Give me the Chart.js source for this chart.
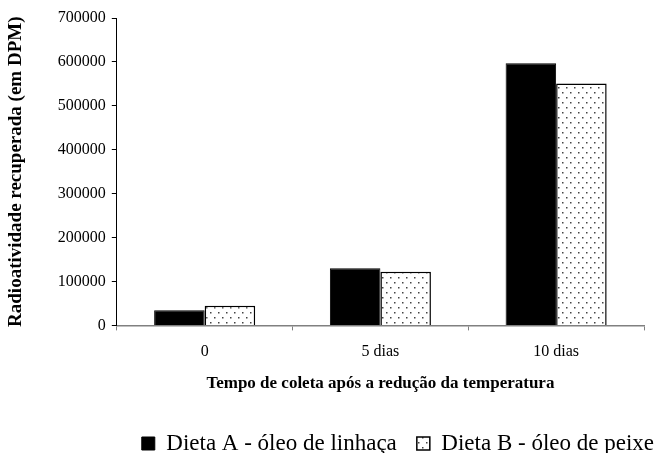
<!DOCTYPE html>
<html>
<head>
<meta charset="utf-8">
<script src="https://cdn.jsdelivr.net/npm/chart.js@4"></script>
<style>
  html, body { margin: 0; padding: 0; background: #fff; }
  #wrap { width: 669px; height: 453px; }
</style>
</head>
<body>
<div id="wrap"><canvas id="chart_radioatividade" width="669" height="453"></canvas></div>
<script>
var categories = ['0', '5 dias', '10 dias'];
var dietaA = [34500, 130000, 597000];
var dietaB = [44500, 122000, 551000];
var yTicks = [0, 100000, 200000, 300000, 400000, 500000, 600000, 700000];

var serif = "'Liberation Serif', 'Times New Roman', serif";

// dotted fill used by the second series
function dotPattern() {
    var c = document.createElement('canvas');
    c.width = 8;
    c.height = 10;
    var g = c.getContext('2d');
    g.fillStyle = '#fff';
    g.fillRect(0, 0, 8, 10);
    g.fillStyle = '#444';
    g.fillRect(2, 2, 1.5, 1.5);
    g.fillRect(6, 7, 1.5, 1.5);
    return g.createPattern(c, 'repeat');
}

Chart.defaults.color = '#000';
Chart.defaults.font.family = serif;

var chart_radioatividade = new Chart(document.getElementById('chart_radioatividade'), {
    type: 'bar',
    data: {
        labels: categories,
        datasets: [
            {
                label: 'Dieta A - óleo de linhaça',
                data: dietaA,
                backgroundColor: '#000',
                borderColor: '#000',
                borderWidth: 1
            },
            {
                label: 'Dieta B - óleo de peixe',
                data: dietaB,
                backgroundColor: dotPattern(),
                borderColor: '#000',
                borderWidth: 1.5
            }
        ]
    },
    options: {
        animation: false,
        responsive: false,
        devicePixelRatio: 1,
        categoryPercentage: 0.575,
        barPercentage: 1,
        layout: {
            padding: { left: 1, right: -5, top: 18, bottom: -12 }
        },
        plugins: {
            tooltip: { enabled: false },
            legend: {
                position: 'bottom',
                align: 'end',
                labels: {
                    boxWidth: 13,
                    boxHeight: 13,
                    padding: 20,
                    font: { family: serif, size: 23 }
                }
            }
        },
        scales: {
            x: {
                afterFit: function(scale) {
                    scale.paddingRight = 25;
                },
                border: { display: true, color: '#808080', width: 1.5 },
                grid: {
                    display: true,
                    drawOnChartArea: false,
                    drawTicks: true,
                    tickLength: 5,
                    color: '#808080'
                },
                ticks: { font: { family: serif, size: 16 }, padding: 12 },
                title: {
                    display: true,
                    text: 'Tempo de coleta após a redução da temperatura',
                    font: { family: serif, size: 17, weight: 'bold' },
                    padding: { top: 0, bottom: 18 }
                }
            },
            y: {
                min: 0,
                max: 700000,
                afterBuildTicks: function(scale) {
                    scale.ticks = yTicks.map(function(v) { return { value: v }; });
                },
                border: { display: true, color: '#000', width: 1 },
                grid: {
                    display: true,
                    drawOnChartArea: false,
                    drawTicks: true,
                    tickLength: 5,
                    color: '#000'
                },
                ticks: {
                    font: { family: serif, size: 16 },
                    padding: 6,
                    callback: function(value) {
                        return String(value);
                    }
                },
                title: {
                    display: true,
                    text: 'Radioatividade recuperada (em DPM)',
                    font: { family: serif, size: 19, weight: 'bold' },
                    padding: { top: 4, bottom: 24 }
                }
            }
        }
    },
    plugins: [{
        id: 'whiteBackground',
        beforeDraw: function(chart) {
            var ctx = chart.canvas.getContext('2d');
            ctx.save();
            ctx.globalCompositeOperation = 'destination-over';
            ctx.fillStyle = 'white';
            ctx.fillRect(0, 0, chart.canvas.width, chart.canvas.height);
            ctx.restore();
        }
    }]
});
</script>
</body>
</html>
